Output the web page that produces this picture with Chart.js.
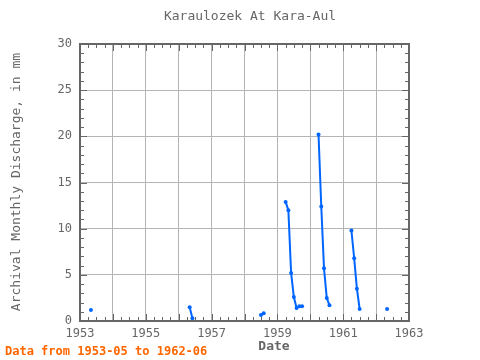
<!DOCTYPE html>
<html>
<head>
<meta charset="utf-8">
<script src="https://cdn.jsdelivr.net/npm/chart.js@4/dist/chart.umd.min.js"></script>
<style>
html,body{margin:0;padding:0;background:#fff;}
#wrap{width:480px;height:360px;position:relative;}
</style>
</head>
<body>
<div id="wrap"><canvas id="c" width="480" height="360"></canvas></div>
<script>
const chartTitle = "Karaulozek At Kara-Aul";
const yAxisTitle = "Archival Monthly Discharge, in mm";
const xAxisTitle = "Date";
const footerText = "Data from 1953-05 to 1962-06";

const months = [
  "1953-05","1953-06",
  "1956-05","1956-06","1956-07",
  "1958-07","1958-08","1958-09",
  "1959-04","1959-05","1959-06","1959-07","1959-08","1959-09","1959-10","1959-11",
  "1960-04","1960-05","1960-06","1960-07","1960-08","1960-09",
  "1961-04","1961-05","1961-06","1961-07","1961-08",
  "1962-05"
];
const discharge = [
  1.2, null,
  1.5, 0.3, null,
  0.65, 0.85, null,
  12.9, 12.0, 5.2, 2.6, 1.4, 1.6, 1.6, null,
  20.2, 12.4, 5.7, 2.5, 1.7, null,
  9.8, 6.8, 3.5, 1.3, null,
  1.3
];
const xTickYears = [1953, 1955, 1957, 1959, 1961, 1963];
const yTicks = [0, 5, 10, 15, 20, 25, 30];

function toYear(s){ const p = s.split("-"); return +p[0] + (+p[1]-1)/12; }
const points = months.map((m,i)=>({x: toYear(m), y: discharge[i]}));

const FONT = "'DejaVu Sans Mono', monospace";
const GRAY = "#666666";

const decor = {
  id: 'decor',
  afterDraw(chart){
    const ctx = chart.ctx, a = chart.chartArea;
    const xs = chart.scales.x, ys = chart.scales.y;
    ctx.save();
    ctx.strokeStyle = GRAY;
    ctx.lineWidth = 1;
    ctx.beginPath();
    for (let q = 0; q <= 40; q++){
      const v = 1953 + q/4;
      const px = Math.round(xs.getPixelForValue(v)) + 0.5;
      const len = (q % 4 === 0) ? 7 : 4;
      ctx.moveTo(px, a.bottom); ctx.lineTo(px, a.bottom - len);
      ctx.moveTo(px, a.top); ctx.lineTo(px, a.top + len);
    }
    for (let v = 0; v <= 30; v++){
      const py = Math.round(ys.getPixelForValue(v)) + 0.5;
      const len = (v % 5 === 0) ? 7 : 4;
      ctx.moveTo(a.left, py); ctx.lineTo(a.left + len, py);
      ctx.moveTo(a.right, py); ctx.lineTo(a.right - len, py);
    }
    ctx.stroke();
    ctx.lineWidth = 2;
    ctx.strokeRect(a.left, a.top, a.right - a.left, a.bottom - a.top);

    ctx.fillStyle = GRAY;
    ctx.textAlign = 'center';
    ctx.textBaseline = 'middle';
    ctx.font = "13px " + FONT;
    ctx.fillText(chartTitle, 250, 17);
    ctx.font = "bold 13px " + FONT;
    ctx.fillText(xAxisTitle, 274, 347);
    ctx.save();
    ctx.translate(17, 182);
    ctx.rotate(-Math.PI/2);
    ctx.font = "13px " + FONT;
    ctx.fillText(yAxisTitle, 0, 0);
    ctx.restore();
    ctx.fillStyle = "#ff6600";
    ctx.textAlign = 'left';
    ctx.font = "bold 12px " + FONT;
    ctx.fillText(footerText, 5, 352);
    ctx.restore();
  }
};

new Chart(document.getElementById('c'), {
  type: 'line',
  data: {
    datasets: [{
      data: points,
      borderColor: '#0066ff',
      backgroundColor: '#0066ff',
      borderWidth: 2,
      pointRadius: 2,
      pointHoverRadius: 2,
      pointBorderWidth: 0,
      spanGaps: false,
      tension: 0
    }]
  },
  options: {
    responsive: false,
    animation: false,
    devicePixelRatio: 1,
    layout: { padding: { left: 0, right: 71, top: 44, bottom: 0 } },
    plugins: { legend: { display: false }, title: { display: false }, tooltip: { enabled: false } },
    scales: {
      x: {
        type: 'linear',
        min: 1953, max: 1963,
        afterFit(s){ s.height = 39; },
        afterBuildTicks(s){ s.ticks = []; for (let y = 1953; y <= 1963; y++) s.ticks.push({value: y}); },
        grid: { color: '#b4b4b4', lineWidth: 1, drawTicks: false },
        border: { display: false },
        ticks: {
          autoSkip: false, maxRotation: 0, padding: 6,
          color: GRAY, font: { family: FONT, size: 12 },
          callback: (v) => xTickYears.includes(v) ? String(v) : ''
        }
      },
      y: {
        min: 0, max: 30,
        afterFit(s){ s.width = 80; },
        afterBuildTicks(s){ s.ticks = yTicks.map(v => ({value: v})); },
        grid: { color: '#b4b4b4', lineWidth: 1, drawTicks: false },
        border: { display: false },
        ticks: { padding: 8, color: GRAY, font: { family: FONT, size: 12 } }
      }
    }
  },
  plugins: [decor]
});
</script>
</body>
</html>
